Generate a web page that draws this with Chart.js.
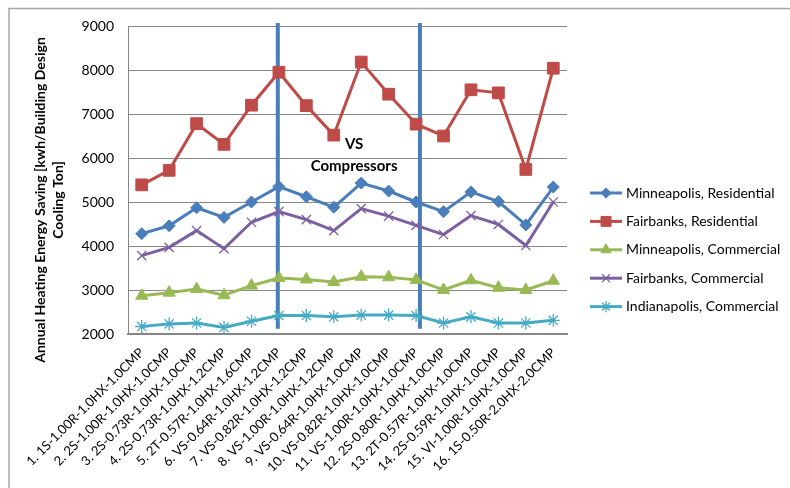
<!DOCTYPE html>
<html>
<head>
<meta charset="utf-8">
<script src="https://cdn.jsdelivr.net/npm/chart.js@4.4.1/dist/chart.umd.min.js"></script>
<style>
  html, body { margin: 0; padding: 0; background: #ffffff; }
  #wrap { width: 790px; height: 488px; position: relative; }
</style>
</head>
<body>
<div id="wrap"><canvas id="c" width="790" height="488"></canvas></div>
<script>
// Building / equipment configurations on the category axis
const categories = [
  '1. 1S-1.00R-1.0HX-1.0CMP',
  '2. 2S-1.00R-1.0HX-1.0CMP',
  '3. 2S-0.73R-1.0HX-1.0CMP',
  '4. 2S-0.73R-1.0HX-1.2CMP',
  '5. 2T-0.57R-1.0HX-1.6CMP',
  '6. VS-0.64R-1.0HX-1.2CMP',
  '7. VS-0.82R-1.0HX-1.2CMP',
  '8. VS-1.00R-1.0HX-1.2CMP',
  '9. VS-0.64R-1.0HX-1.0CMP',
  '10. VS-0.82R-1.0HX-1.0CMP',
  '11. VS-1.00R-1.0HX-1.0CMP',
  '12. 2S-0.80R-1.0HX-1.0CMP',
  '13. 2T-0.57R-1.0HX-1.0CMP',
  '14. 2S-0.59R-1.0HX-1.0CMP',
  '15. VI-1.00R-1.0HX-1.0CMP',
  '16. 1S-0.50R-2.0HX-2.0CMP'
];

// Annual heating energy saving, kWh per ton of building design cooling
const minneapolisResidential = [4280, 4460, 4870, 4650, 5000, 5350, 5120, 4880, 5430, 5250, 5000, 4780, 5230, 5010, 4480, 5340];
const fairbanksResidential   = [5390, 5720, 6780, 6310, 7200, 7950, 7190, 6520, 8180, 7450, 6770, 6500, 7550, 7480, 5740, 8040];
const minneapolisCommercial  = [2870, 2940, 3020, 2880, 3100, 3270, 3240, 3180, 3300, 3290, 3230, 3000, 3220, 3050, 3000, 3210];
const fairbanksCommercial    = [3780, 3970, 4350, 3940, 4540, 4780, 4600, 4350, 4850, 4680, 4470, 4260, 4690, 4490, 4010, 5000];
const indianapolisCommercial = [2170, 2230, 2250, 2150, 2290, 2420, 2420, 2390, 2430, 2430, 2420, 2250, 2390, 2250, 2250, 2310];

const seriesNames = [
  'Minneapolis, Residential',
  'Fairbanks, Residential',
  'Minneapolis, Commercial',
  'Fairbanks, Commercial',
  'Indianapolis, Commercial'
];

// Value axis ticks
const yTicks = [2000, 3000, 4000, 5000, 6000, 7000, 8000, 9000];

const yAxisTitle = ['Annual Heating Energy Saving [kwh/Building Design', 'Cooling Ton]'];

// Group of variable-speed compressor cases, bounded by two dividers
const vsGroupLabel = ['VS', 'Compressors'];
const vsDividers = [4.96, 10.14];        // category index of each divider
const vsDividerSpan = [2120, 9070];      // value range the dividers cover
const vsLabelAt = { index: 7.74, values: [6310, 5810] };

const FONT = 'Lato, "Open Sans", "DejaVu Sans", sans-serif';
const GRID = '#868686';

function series(label, data, color, style, radius, borderW) {
  return {
    label, data,
    borderColor: color,
    backgroundColor: color,
    borderWidth: 3,
    tension: 0,
    fill: false,
    pointStyle: style,
    pointRadius: radius,
    pointHoverRadius: radius,
    pointBackgroundColor: color,
    pointBorderColor: color,
    pointBorderWidth: borderW
  };
}

const datasets = [
  series(seriesNames[0], minneapolisResidential, '#4A7EBB', 'rectRot', 6, 1),
  series(seriesNames[1], fairbanksResidential,   '#BE4B48', 'rect', 8.3, 1),
  series(seriesNames[2], minneapolisCommercial,  '#98B954', 'triangle', 7, 1),
  series(seriesNames[3], fairbanksCommercial,    '#7D60A0', 'crossRot', 6.5, 1.3),
  series(seriesNames[4], indianapolisCommercial, '#46AAC5', 'star', 6.5, 1.3)
];

// Light outer frame around the whole chart
const framePlugin = {
  id: 'frame',
  beforeDraw(chart) {
    const ctx = chart.ctx;
    ctx.save();
    ctx.fillStyle = '#ffffff';
    ctx.fillRect(0, 0, chart.width, chart.height);
    ctx.strokeStyle = '#A6A6A6';
    ctx.lineWidth = 1.5;
    ctx.strokeRect(9, 8.5, 900, 600);
    ctx.restore();
  }
};

// Dividers marking the VS compressor cases, with their caption
const vsGroupPlugin = {
  id: 'vsGroup',
  beforeDatasetsDraw(chart) {
    const { ctx, scales: { x, y } } = chart;
    ctx.save();
    ctx.strokeStyle = '#4A7EBB';
    ctx.lineWidth = 4;
    vsDividers.forEach(v => {
      const px = x.getPixelForValue(v);
      ctx.beginPath();
      ctx.moveTo(px, y.getPixelForValue(vsDividerSpan[1]));
      ctx.lineTo(px, y.getPixelForValue(vsDividerSpan[0]));
      ctx.stroke();
    });
    ctx.restore();
  },
  afterDatasetsDraw(chart) {
    const { ctx, scales: { x, y } } = chart;
    ctx.save();
    ctx.fillStyle = '#000000';
    ctx.font = 'bold 15px ' + FONT;
    ctx.textAlign = 'center';
    ctx.textBaseline = 'middle';
    const px = x.getPixelForValue(vsLabelAt.index);
    vsGroupLabel.forEach((t, i) => ctx.fillText(t, px, y.getPixelForValue(vsLabelAt.values[i])));
    ctx.restore();
  }
};

// Two-line rotated value-axis title
const yTitlePlugin = {
  id: 'yTitle',
  afterDraw(chart) {
    const ctx = chart.ctx;
    ctx.save();
    ctx.fillStyle = '#000000';
    ctx.font = 'bold 14px ' + FONT;
    ctx.textAlign = 'center';
    ctx.textBaseline = 'middle';
    ctx.translate(40, 200);
    ctx.rotate(-Math.PI / 2);
    yAxisTitle.forEach((t, i) => ctx.fillText(t, 0, i * 18));
    ctx.restore();
  }
};

// Legend at the right: line sample with marker, then series name
const sideLegendPlugin = {
  id: 'sideLegend',
  afterDraw(chart) {
    const ctx = chart.ctx;
    const area = chart.chartArea;
    const x0 = area.right + 23, x1 = x0 + 32, tx = x1 + 4;
    const drawPoint = Chart.helpers && Chart.helpers.drawPoint;
    chart.data.datasets.forEach((ds, i) => {
      const yy = 193 + i * 28.4;
      ctx.save();
      ctx.strokeStyle = ds.borderColor;
      ctx.lineWidth = ds.borderWidth;
      ctx.beginPath();
      ctx.moveTo(x0, yy);
      ctx.lineTo(x1, yy);
      ctx.stroke();
      if (drawPoint) {
        ctx.fillStyle = ds.pointBackgroundColor;
        ctx.strokeStyle = ds.pointBorderColor;
        ctx.lineWidth = ds.pointBorderWidth;
        drawPoint(ctx, { pointStyle: ds.pointStyle, radius: ds.pointRadius * 0.85, borderWidth: ds.pointBorderWidth, rotation: 0 }, (x0 + x1) / 2, yy);
      }
      ctx.fillStyle = '#000000';
      ctx.font = '14px ' + FONT;
      ctx.textAlign = 'left';
      ctx.textBaseline = 'middle';
      ctx.fillText(ds.label, tx, yy);
      ctx.restore();
    });
  }
};

new Chart(document.getElementById('c'), {
  type: 'line',
  data: { labels: categories, datasets },
  options: {
    responsive: false,
    devicePixelRatio: 1,
    animation: false,
    layout: { padding: { top: 26, right: 223, left: 0, bottom: 0 } },
    plugins: {
      legend: { display: false },
      tooltip: { enabled: false }
    },
    scales: {
      x: {
        type: 'category',
        offset: true,
        grid: { display: false, drawTicks: false },
        border: { display: true, color: GRID, width: 2 },
        ticks: {
          autoSkip: false,
          maxRotation: 45,
          minRotation: 45,
          padding: 11,
          color: '#000000',
          font: { family: FONT, size: 13 }
        },
        afterFit(scale) { scale.height = 488 - 334; }
      },
      y: {
        min: yTicks[0],
        max: yTicks[yTicks.length - 1],
        afterBuildTicks(scale) { scale.ticks = yTicks.map(v => ({ value: v })); },
        grid: { color: GRID, lineWidth: 1, drawTicks: false },
        border: { display: true, color: GRID, width: 1 },
        ticks: {
          padding: 14,
          color: '#000000',
          font: { family: FONT, size: 14 },
          callback: v => String(v)
        },
        afterFit(scale) { scale.width = 128; }
      }
    }
  },
  plugins: [framePlugin, vsGroupPlugin, yTitlePlugin, sideLegendPlugin]
});
</script>
</body>
</html>
